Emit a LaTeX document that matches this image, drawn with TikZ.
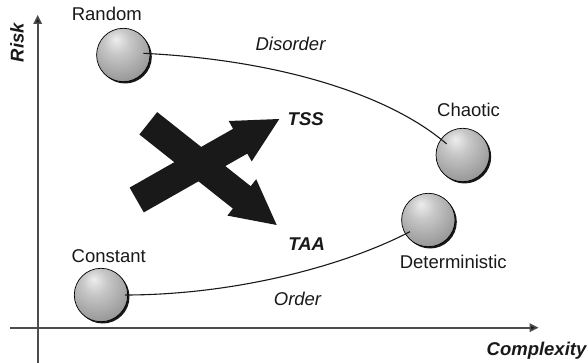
\documentclass[tikz,border=0pt]{standalone}
\usepackage{fontspec}
\setmainfont{Liberation Sans}
\usetikzlibrary{arrows.meta,shadows}

% grey globe with the highlight up and a little to the left
\pgfdeclareradialshading{globe}{\pgfpoint{-7bp}{15bp}}{%
  color(0bp)=(black!7);
  color(12bp)=(black!22);
  color(32bp)=(black!40);
  color(50bp)=(black!54);
  color(68bp)=(black!66)}

\tikzset{
  lbl/.style={font=\fontsize{18.5}{22}\selectfont, text=black!90, inner sep=0pt, anchor=base},
  ilbl/.style={lbl, font=\fontsize{18.5}{22}\selectfont\itshape},
  bilbl/.style={lbl, font=\fontsize{18.5}{22}\selectfont\bfseries\itshape},
  globenode/.style={circle, minimum size=53.4pt, inner sep=0pt, draw=black,
    line width=0.7pt, shade, shading=globe,
    drop shadow={shadow xshift=1.8pt, shadow yshift=-1.8pt, opacity=1, fill=black!90}},
  axis/.style={draw=black!70, line width=1.6pt,
    -{Triangle[length=9pt,width=8.5pt,fill=black!90]}},
  link/.style={draw=black!90, line width=1.1pt},
  bigarrow/.style={fill=black!90, draw=none}
}

\begin{document}
\begin{tikzpicture}[x=1pt, y=-1pt]
  \useasboundingbox[fill=white] (0,0) rectangle (588,363);

  % axes
  \coordinate (ybot) at (37.7,363);
  \coordinate (ytop) at (37.7,15);
  \coordinate (xleft) at (10,327.7);
  \coordinate (xright) at (538.5,327.7);
  \draw[axis] (ybot) -- (ytop);
  \draw[axis] (xleft) -- (xright);
  \node[bilbl, rotate=90] (risk) at (23.5,42.5) {Risk};
  \node[bilbl] (cx) at (536.5,355.7) {Complexity};

  % the two crossing arrows
  \fill[bigarrow] (129.6,187.6) -- (233.1,128.8) -- (228.7,121.0) -- (279.3,119)
    -- (251.7,161.4) -- (247.3,153.6) -- (143.8,212.4) -- cycle;
  \fill[bigarrow] (157.2,112.1) -- (250.7,186.2) -- (256.2,179.2) -- (276.7,225)
    -- (227.4,215.6) -- (232.9,208.6) -- (139.4,134.5) -- cycle;
  \node[bilbl] (tss) at (305.7,126) {TSS};
  \node[bilbl] (taa) at (306.7,250) {TAA};

  % globes
  \node[globenode] (rnd) at (123.3,55) {};
  \node[globenode] (chs) at (462.7,155) {};
  \node[globenode] (cst) at (101,295) {};
  \node[globenode] (det) at (428.3,220) {};

  \node[lbl] (rndl) at (106.8,21) {Random};
  \node[lbl] (chsl) at (468.5,116.5) {Chaotic};
  \node[lbl] (cstl) at (108.7,262) {Constant};
  \node[lbl] (detl) at (453.3,268.5) {Deterministic};

  % linking curves
  \draw[link] ([shift={(20,-1.7)}]rnd.center) .. controls (280,60) and (390,95)
    .. ([shift={(-16,-11)}]chs.center);
  \draw[link] ([shift={(24,0)}]cst.center) .. controls (230,295) and (340,268)
    .. ([shift={(-18.3,11.7)}]det.center);
  \node[ilbl] (dis) at (290.5,50.7) {Disorder};
  \node[ilbl] (ord) at (297.5,305) {Order};
\end{tikzpicture}
\end{document}
